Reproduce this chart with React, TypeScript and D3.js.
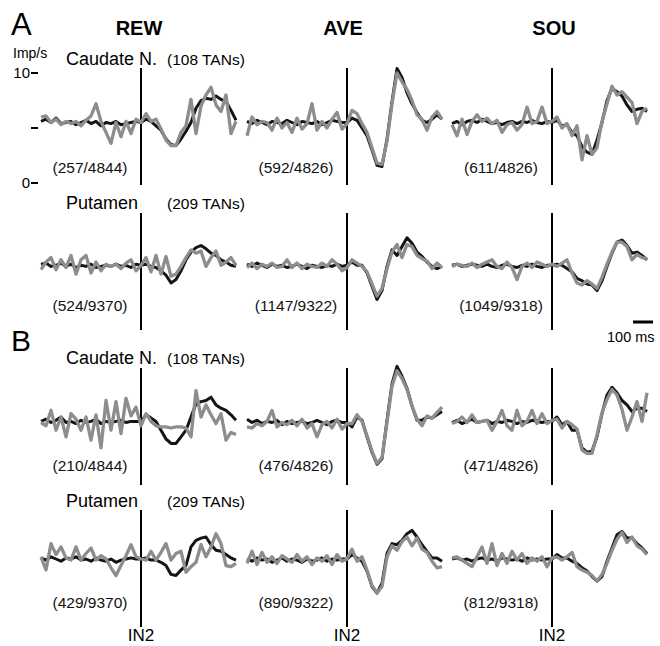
import React from "react";
import * as d3 from "d3";

// time bins (ms), IN2 at 0
const TIMES = d3.range(-500, 500, 25);

const COLUMNS = ["REW", "AVE", "SOU"];
const ROW_REGIONS = ["Caudate N.", "Putamen", "Caudate N.", "Putamen"];
const ROW_TANS = ["(108 TANs)", "(209 TANs)", "(108 TANs)", "(209 TANs)"];
const COUNTS = [
  ["(257/4844)", "(592/4826)", "(611/4826)"],
  ["(524/9370)", "(1147/9322)", "(1049/9318)"],
  ["(210/4844)", "(476/4826)", "(471/4826)"],
  ["(429/9370)", "(890/9322)", "(812/9318)"],
];
const Y_TICKS = [0, 5, 10];

// A, caudate
const aCaudRewBlack = [5.6,5.8,5.5,5.9,5.4,5.5,5.6,5.3,5.5,5.7,5.4,5.6,5.2,5.5,5.4,5.6,5.3,5.4,5.5,5.6, 5.5,5.8,5.6,5.2,4.8,4.0,3.5,3.4,4.0,4.7,5.5,6.8,7.5,7.7,7.6,7.9,7.6,7.4,6.6,5.7];
const aCaudRewGray = [6.0,6.1,5.5,5.8,5.3,5.6,5.4,5.6,5.2,5.7,6.1,7.2,5.6,4.6,3.6,5.5,4.2,5.6,4.5,5.8, 5.5,6.3,5.6,5.8,4.9,3.9,3.4,3.4,4.6,5.2,7.6,4.5,7.0,8.0,8.7,7.1,6.5,8.0,4.5,5.6];
const aCaudAveBlack = [5.6,5.4,5.7,5.5,5.3,5.6,5.5,5.4,5.7,5.5,5.3,5.6,5.5,5.4,5.6,5.3,5.5,5.7,5.6,5.5, 5.5,5.9,5.7,5.0,4.3,3.0,1.6,1.5,4.0,7.4,10.4,9.6,8.2,7.2,6.4,5.7,5.5,5.8,6.2,5.8];
const aCaudAveGray = [4.3,6.0,5.3,5.6,5.5,4.8,5.9,5.0,5.5,4.6,5.9,4.9,5.4,7.2,4.8,5.6,5.0,5.8,6.4,4.9, 5.4,6.6,6.3,5.4,4.6,3.2,1.8,1.7,3.8,7.2,10.0,9.2,8.5,7.5,6.2,5.8,4.8,6.0,6.5,5.8];
const aCaudSouBlack = [5.4,5.6,5.3,5.6,5.7,5.5,5.8,5.6,5.4,5.5,5.3,5.5,5.6,5.4,5.6,5.5,5.7,5.5,5.4,5.6, 5.5,5.7,5.2,5.3,4.6,4.3,3.3,2.8,2.6,3.9,5.5,7.5,8.6,8.3,7.9,7.1,6.5,6.7,6.8,6.5];
const aCaudSouGray = [5.3,4.3,5.8,4.4,5.6,6.2,5.6,5.9,5.4,5.7,4.6,5.3,5.5,4.8,5.3,6.9,5.4,5.6,6.9,5.4, 5.6,6.0,5.0,5.4,4.3,5.2,2.1,4.3,2.6,3.2,5.6,7.2,8.8,8.0,8.3,7.8,7.3,5.4,6.5,6.8];

// A, putamen
const aPutRewBlack = [5.8,5.9,5.6,5.7,5.9,5.6,5.8,5.5,5.7,5.6,5.8,5.5,5.6,5.7,5.6,5.8,5.6,5.7,5.5,5.8, 5.7,5.8,5.6,5.5,5.2,4.8,4.1,4.4,5.2,6.2,6.9,7.3,7.5,7.2,6.8,6.6,6.2,6.0,5.7,5.6];
const aPutRewGray = [5.3,6.0,6.4,5.3,6.2,5.5,6.6,4.9,6.2,6.6,5.0,6.0,5.2,5.8,5.6,5.8,5.4,5.9,6.2,5.2, 5.7,6.4,5.1,6.6,4.9,6.5,4.7,4.9,5.6,6.4,7.1,6.8,7.0,5.6,6.4,7.0,5.7,6.0,6.4,5.7];
const aPutAveBlack = [5.8,5.6,5.9,5.7,5.5,5.8,5.6,5.7,5.5,5.6,5.8,5.6,5.4,5.7,5.6,5.5,5.7,5.6,5.8,5.6, 5.7,6.0,5.7,5.7,5.0,3.8,2.6,3.4,5.6,7.1,6.6,7.4,8.2,7.7,6.9,6.5,6.0,5.6,5.4,5.6];
const aPutAveGray = [5.5,5.9,5.4,5.8,5.6,5.9,5.5,5.6,6.2,5.5,5.9,5.4,5.8,5.6,5.5,5.9,5.6,6.2,5.8,5.2, 5.5,6.2,5.9,5.6,5.1,4.0,2.9,3.6,5.4,6.9,7.6,6.4,7.6,7.4,6.6,6.3,6.1,5.4,5.9,5.5];
const aPutSouBlack = [5.7,5.8,5.6,5.7,5.8,5.7,5.6,5.8,5.6,5.5,5.7,5.8,5.6,5.5,5.7,5.6,5.8,5.6,5.5,5.7, 5.7,5.8,5.7,5.4,5.1,4.5,4.3,4.0,3.9,3.4,4.3,5.6,6.8,7.8,8.0,7.5,6.8,6.9,6.6,6.2];
const aPutSouGray = [5.6,5.8,5.7,5.6,5.9,5.5,5.8,6.0,6.2,5.6,5.4,6.0,5.5,4.4,5.6,5.9,5.5,6.0,5.8,5.6, 5.8,5.6,5.9,6.2,5.0,4.1,3.9,4.3,4.0,3.6,4.6,5.8,6.9,7.8,7.8,7.4,6.2,6.7,6.4,6.3];

// B, caudate
const bCaudRewBlack = [5.6,5.8,5.5,5.7,6.0,5.5,5.6,5.4,5.7,5.5,5.6,5.8,5.4,5.6,5.5,5.6,5.7,5.5,5.6,5.6, 5.6,6.2,5.9,5.6,4.8,4.0,3.6,3.6,4.2,4.8,6.0,7.2,7.4,7.5,7.8,7.1,6.8,6.6,6.2,5.7];
const bCaudRewGray = [5.5,5.2,6.6,4.8,6.0,4.2,6.3,5.8,4.8,6.0,3.9,6.2,3.2,7.5,4.8,7.4,4.5,7.7,6.1,6.9, 5.2,6.3,5.6,5.2,5.1,5.1,5.0,5.1,5.1,5.0,4.2,8.4,6.0,7.1,6.2,5.4,6.3,3.9,4.6,4.4];
const bCaudAveBlack = [5.8,5.5,5.7,5.4,5.6,5.5,5.7,5.3,5.6,5.4,5.5,5.6,5.4,5.5,5.7,5.5,5.3,5.6,5.7,5.5, 5.5,5.1,6.0,5.7,4.2,2.8,1.7,2.2,5.7,9.0,10.6,9.7,8.6,7.0,5.7,5.7,6.0,5.9,6.2,6.5];
const bCaudAveGray = [5.1,5.0,5.4,5.2,5.6,6.6,5.1,5.5,5.3,5.7,5.2,5.8,5.0,5.4,4.2,5.3,5.6,5.0,5.8,4.9, 5.4,5.4,6.2,5.6,4.3,2.9,1.8,2.3,5.5,8.8,10.2,9.5,8.5,7.0,5.8,5.2,6.1,5.9,6.4,6.9];
const bCaudSouBlack = [5.5,5.7,5.4,5.6,5.8,5.5,5.6,5.7,5.4,5.6,5.5,5.7,5.6,5.4,5.6,5.5,5.7,5.6,5.5,5.6, 5.6,6.0,5.3,5.6,4.8,4.8,3.2,2.8,2.9,4.2,6.3,8.0,8.7,8.2,7.5,7.1,6.5,6.8,6.8,6.5];
const bCaudSouGray = [5.4,5.6,6.0,5.5,6.2,5.5,5.6,5.7,4.8,5.6,6.6,5.2,4.8,6.6,5.2,5.6,6.6,5.4,6.3,5.4, 5.7,5.8,5.0,5.6,5.3,4.9,3.0,2.7,2.7,4.4,6.4,7.6,8.5,8.0,6.7,4.8,6.0,7.4,5.6,8.2];

// B, putamen
const bPutRewBlack = [6.1,5.9,6.2,6.0,5.8,6.1,6.0,6.2,5.9,6.0,5.8,6.1,5.9,5.8,6.0,5.7,5.9,6.0,6.1,6.0, 6.0,6.1,5.9,5.9,5.7,5.4,4.6,4.5,5.0,5.4,7.1,7.7,7.9,8.0,7.3,6.8,6.7,6.4,6.1,5.9];
const bPutRewGray = [6.2,5.0,7.4,6.4,7.1,6.1,5.9,7.1,5.9,6.5,7.0,5.9,6.3,6.0,5.2,4.5,5.4,6.3,7.3,6.2, 6.0,5.9,6.7,5.9,6.6,7.4,5.9,6.5,6.7,4.8,5.3,5.7,7.3,6.2,7.1,8.3,7.4,5.4,5.3,5.6];
const bPutAveBlack = [6.0,5.8,6.1,5.9,6.0,5.7,5.9,6.1,5.8,6.0,5.9,5.7,6.0,5.8,5.9,6.1,5.8,6.0,5.9,6.0, 6.0,6.4,6.1,5.8,4.9,3.5,2.9,3.8,6.5,7.4,7.3,7.7,8.3,8.6,8.0,7.3,6.7,6.1,6.1,5.8];
const bPutAveGray = [5.6,6.7,5.5,6.6,5.7,6.2,5.6,6.3,6.0,5.7,6.4,5.8,6.2,5.5,6.1,5.8,6.3,5.5,6.4,5.8, 6.0,6.9,5.8,6.2,5.0,3.6,2.9,3.5,6.2,7.2,6.8,7.6,8.0,7.2,7.9,6.9,6.6,5.8,5.2,5.3];
const bPutSouBlack = [6.0,6.1,5.9,6.0,5.8,6.0,6.1,5.9,6.0,5.8,6.1,6.0,5.9,6.0,5.8,6.1,5.9,6.0,5.9,6.0, 6.0,6.4,6.1,6.1,5.8,5.6,5.2,4.9,4.4,4.0,4.4,5.8,7.0,8.2,8.5,7.9,7.9,7.4,7.0,6.5];
const bPutSouGray = [6.1,6.2,5.9,5.6,5.3,6.2,7.1,5.6,7.4,5.4,6.5,5.6,6.7,5.9,6.5,5.6,6.1,5.8,6.2,5.3, 6.1,6.2,5.9,6.2,6.6,5.3,5.0,4.8,4.5,4.0,4.6,5.6,6.8,7.8,8.4,7.5,8.0,7.2,6.9,6.4];

const SERIES = [
  [[aCaudRewBlack, aCaudRewGray], [aCaudAveBlack, aCaudAveGray], [aCaudSouBlack, aCaudSouGray]],
  [[aPutRewBlack, aPutRewGray], [aPutAveBlack, aPutAveGray], [aPutSouBlack, aPutSouGray]],
  [[bCaudRewBlack, bCaudRewGray], [bCaudAveBlack, bCaudAveGray], [bCaudSouBlack, bCaudSouGray]],
  [[bPutRewBlack, bPutRewGray], [bPutAveBlack, bPutAveGray], [bPutSouBlack, bPutSouGray]],
];

const FONT = "'Liberation Sans', Arial, Helvetica, sans-serif";
const COL_LEFT = [41, 247, 452];
const COL_TITLE_X = [139, 343, 554];
const ROW_TOP = [68, 213, 368, 510];
const LINE_LEN = 117;
const COUNT_BASE = [173, 311, 471, 608];
const REGION_BASE = [65, 209, 364, 507];
const COLORS = ["#141414", "#8d8d8d"];

export default function App() {
  const width = 660;
  const height = 646;

  const xScales = COL_LEFT.map((l) =>
    d3.scaleLinear().domain([-500, 480]).range([l, l + 196])
  );
  const yScales = ROW_TOP.map((t) =>
    d3.scaleLinear().domain([0, 10]).range([t + 115, t + 5])
  );

  return (
    <div>
      <style>{`body{margin:0;background:#fff}`}</style>
      <svg width={width} height={height} style={{ display: "block" }} fontFamily={FONT}>
        <rect width={width} height={height} fill="#fff" />

        <text x={11} y={35} fontSize={31}>A</text>
        <text x={11} y={351} fontSize={30}>B</text>

        {COLUMNS.map((c, ci) => (
          <text key={c} x={COL_TITLE_X[ci]} y={35} fontSize={20} fontWeight="bold" textAnchor="middle">
            {c}
          </text>
        ))}

        {/* y axis (row A caudate only) */}
        <text x={13} y={58} fontSize={14}>Imp/s</text>
        {Y_TICKS.map((t) => (
          <g key={t}>
            <line x1={31} x2={38} y1={yScales[0](t)} y2={yScales[0](t)} stroke="#000" strokeWidth={2} />
            {t !== 5 && (
              <text x={30} y={yScales[0](t) + 5} fontSize={15} textAnchor="end">{t}</text>
            )}
          </g>
        ))}

        {ROW_REGIONS.map((r, ri) => (
          <g key={ri}>
            <text x={66} y={REGION_BASE[ri]} fontSize={18}>{r}</text>
            <text x={167} y={REGION_BASE[ri]} fontSize={15.5}>{ROW_TANS[ri]}</text>
          </g>
        ))}

        {SERIES.map((row, ri) =>
          row.map((pair, ci) => {
            const x = xScales[ci];
            const y = yScales[ri];
            const line = d3
              .line<number>()
              .x((_, i) => x(TIMES[i]))
              .y((v) => y(v));
            return (
              <g key={`${ri}-${ci}`}>
                <line
                  x1={x(0)}
                  x2={x(0)}
                  y1={ROW_TOP[ri]}
                  y2={ROW_TOP[ri] + LINE_LEN}
                  stroke="#000"
                  strokeWidth={2}
                />
                {pair.map((vals, si) => (
                  <path
                    key={si}
                    d={line(vals) || ""}
                    fill="none"
                    stroke={COLORS[si]}
                    strokeWidth={si === 0 ? 3 : 3.3}
                    strokeLinejoin="round"
                  />
                ))}
                <text x={x(-255)} y={COUNT_BASE[ri]} fontSize={15.5} textAnchor="middle" fill="#111">
                  {COUNTS[ri][ci]}
                </text>
              </g>
            );
          })
        )}

        {COL_LEFT.map((_, ci) => (
          <text key={ci} x={xScales[ci](0)} y={641} fontSize={17} textAnchor="middle">IN2</text>
        ))}

        {/* 100 ms scale bar */}
        <line
          x1={xScales[2](-500) + 181}
          x2={xScales[2](-400) + 181}
          y1={322}
          y2={322}
          stroke="#000"
          strokeWidth={3}
        />
        <text x={607} y={342} fontSize={14.5}>100 ms</text>
      </svg>
    </div>
  );
}
